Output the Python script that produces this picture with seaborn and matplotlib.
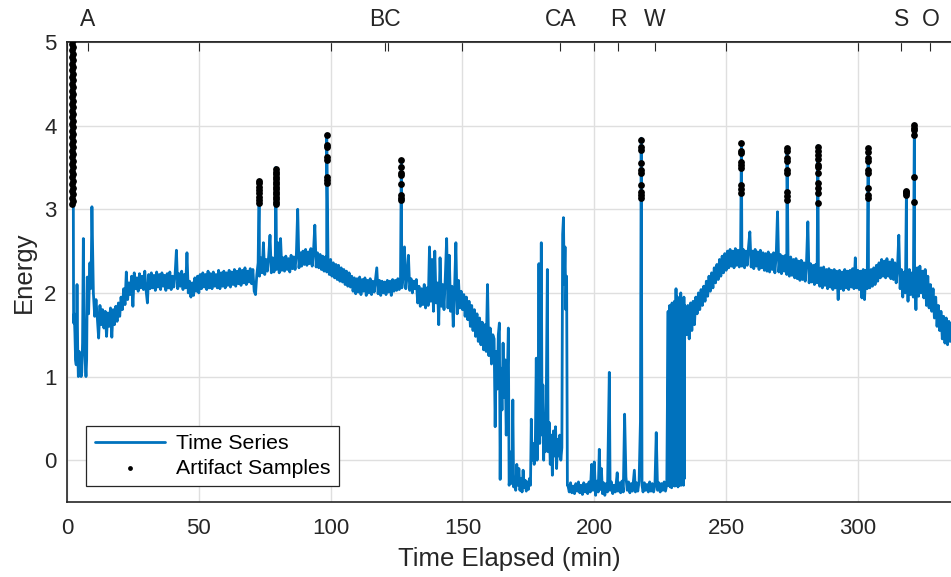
import numpy as np
import pandas as pd
import matplotlib
matplotlib.use("Agg")
import matplotlib.pyplot as plt
import seaborn as sns

# ---------------- data ----------------
SAMPLE_STEP = 0.5  # minutes between samples in the uniformly sampled stretches

# start of recording: (time, energy) pairs
early_pairs = [(1.90, 5.60), (1.97, 3.40), (2.04, 5.50), (2.11, 3.10), (2.18, 5.20),
               (2.25, 3.05), (2.32, 4.20), (2.40, 3.00), (2.50, 1.64), (2.75, 1.75),
               (3.00, 1.52), (3.25, 1.20), (3.50, 1.14), (3.80, 2.10), (4.05, 1.35),
               (4.30, 1.00), (4.60, 1.30), (4.85, 1.10), (5.10, 1.25), (5.35, 1.00),
               (5.60, 1.05), (5.90, 1.40), (6.20, 2.65), (6.45, 1.80), (6.70, 1.36),
               (6.95, 1.15), (7.20, 1.00), (7.45, 1.20), (7.70, 2.19), (7.95, 2.00),
               (8.20, 1.75), (8.45, 2.10), (8.70, 2.36), (8.95, 2.05), (9.20, 2.30),
               (9.45, 3.03), (9.70, 2.55)]

band_10_start = 10.0
band_10 = [2.00, 1.72, 1.92, 1.70, 1.46, 1.85, 1.62, 1.80, 1.58, 1.78,
           1.48, 1.76, 1.60, 1.82, 1.47, 1.80, 1.62, 1.84, 1.66, 1.88,
           1.72, 1.95, 1.80, 2.05, 1.86, 2.25, 1.92, 2.12]

band_24_start = 24.0
band_24 = [1.98, 2.20, 1.84, 2.24, 2.05, 2.18, 2.02, 2.23, 2.06, 2.20,
           2.04, 2.26, 2.03, 1.88, 2.22, 2.05, 2.24, 2.06, 2.21, 2.03,
           2.25, 2.07, 2.22, 2.04, 2.24, 2.08, 2.21, 2.03, 2.23, 2.06,
           2.25, 2.04, 2.20, 2.07, 2.22, 2.51, 2.05, 2.23, 2.08, 2.26,
           2.04, 2.22, 2.06, 2.48, 2.00, 2.14, 1.95, 2.12, 1.97, 2.18,
           2.02, 2.20, 2.00, 2.22, 2.05, 2.24, 2.07, 2.22, 2.04, 2.26,
           2.06, 2.23, 2.05, 2.25, 2.08, 2.22, 2.06, 2.27, 2.05, 2.24,
           2.08, 2.26, 2.06, 2.24, 2.09, 2.27, 2.07, 2.25, 2.10, 2.28,
           2.08, 2.26, 2.11, 2.29, 2.09, 2.27, 2.12, 2.30, 2.10, 2.26,
           2.13, 2.29, 2.11, 2.28, 2.02, 1.98]

band_72_start = 72.0
band_72 = [2.22, 2.36, 2.20, 2.42, 2.24, 2.60, 2.22, 2.40, 2.26, 2.44,
           2.69, 2.24, 2.42, 2.25, 2.40, 2.28, 2.60, 2.24, 2.65, 2.27,
           2.42, 2.26, 2.44, 2.28, 2.41, 2.25, 2.45, 2.29, 2.43, 2.28,
           2.46, 3.00, 2.30, 2.48, 2.32, 2.50, 2.34, 2.52, 2.33, 2.49,
           2.35, 2.53, 2.32, 2.50, 2.81, 2.31, 2.48, 2.30, 2.46, 2.28,
           2.44, 2.26, 2.43, 2.25, 2.42, 2.22, 2.40]

band_100_start = 100.5
band_100 = [2.20, 2.36, 2.18, 2.34, 2.16, 2.33, 2.14, 2.30, 2.13, 2.28,
            2.10, 2.26, 2.08, 2.24, 2.07, 2.20, 2.02, 2.18, 1.99, 2.17,
            2.01, 2.19, 1.98, 2.16, 2.02, 2.18, 1.97, 2.15, 2.00, 2.17,
            1.98, 2.14, 2.01, 2.16, 2.30, 1.99, 2.15, 1.97, 2.14, 2.00,
            2.13, 1.98, 2.15, 2.01, 2.14, 1.97, 2.16, 2.02, 2.15, 2.03,
            2.17, 2.04, 2.18, 2.06, 2.20, 2.55, 2.05, 2.20, 2.45, 2.03,
            2.17, 2.00, 2.14, 2.05, 2.16, 1.88, 2.08, 1.84, 2.05, 1.86,
            2.10, 1.82, 2.06, 1.85, 2.55, 1.90, 2.40, 1.78, 2.50, 1.88,
            2.12, 1.62, 2.42, 1.84, 2.10, 1.80, 2.20, 2.65, 1.82, 2.45,
            1.78, 2.08, 1.60, 2.05, 2.60, 1.75, 2.15, 1.82, 2.02, 1.80,
            1.98, 1.72, 1.95, 1.68, 1.90, 1.60, 1.85, 1.55, 1.80, 1.48,
            1.75, 1.42, 1.70, 1.38, 1.65, 1.32, 1.62, 1.30, 2.10, 1.25,
            1.58, 1.15, 1.50]

# irregular stretch (drop-out, floor, burst): (time, energy) pairs
middle_pairs = [
    (162.0, 1.45), (162.4, 0.40), (162.8, 1.30), (163.2, 0.85), (163.6, 1.50),
    (164.0, 1.64), (164.3, -0.23), (164.6, 1.10), (165.0, 0.60), (165.4, 1.40),
    (165.8, 0.75), (166.2, 1.20), (166.6, 0.30), (167.0, 0.95), (167.4, 1.58),
    (167.7, -0.30), (168.0, -0.20), (168.4, 0.10), (168.8, -0.28), (169.1, 0.72),
    (169.4, -0.32), (169.8, -0.25), (170.2, -0.36), (170.6, -0.05), (171.0, -0.30),
    (171.4, -0.10), (171.8, -0.36), (172.2, -0.22), (172.6, -0.38), (173.0, -0.12),
    (173.4, -0.33), (173.8, -0.24), (174.2, -0.37), (174.6, -0.26), (175.0, -0.35),
    (175.4, -0.22), (175.8, -0.30), (176.1, 0.49), (176.4, 0.00), (176.8, 0.20),
    (177.2, -0.05), (177.6, 0.10), (178.0, 1.22), (178.3, 0.00), (178.7, 0.40),
    (179.0, 2.35), (179.3, 0.20), (179.6, 1.00), (179.9, 2.60), (180.2, 0.30),
    (180.5, 0.90), (180.8, 0.00), (181.1, 0.55), (181.4, 0.10), (181.8, 0.80),
    (182.2, 2.28), (182.5, 0.10), (182.9, 0.45), (183.3, -0.05), (183.7, 0.30),
    (184.1, -0.18), (184.5, 0.35), (184.9, 0.05), (185.3, 0.40), (185.7, -0.10),
    (186.1, 0.25), (186.5, 0.05), (186.9, 0.30), (187.3, 0.00), (187.7, 0.15),
    (188.0, 2.70), (188.3, 2.90), (188.6, 2.10), (188.9, 2.55), (189.2, 1.80),
    (189.5, 2.20), (189.8, -0.30),
    (190.0, -0.30), (190.5, -0.38), (191.0, -0.27), (191.5, -0.39), (192.0, -0.31),
    (192.5, -0.40), (193.0, -0.28), (193.5, -0.37), (194.0, -0.26), (194.5, -0.39),
    (195.0, -0.30), (195.5, -0.41), (196.0, -0.27), (196.5, -0.38), (197.0, -0.29),
    (197.5, -0.40), (198.0, -0.26), (198.5, -0.38), (199.0, -0.05), (199.5, -0.36),
    (200.0, -0.02), (200.5, -0.42), (201.0, -0.25), (201.5, -0.38), (201.9, 0.13),
    (202.3, -0.35), (202.7, -0.10), (203.1, -0.40), (203.5, -0.27), (204.0, -0.42),
    (204.5, -0.28), (205.0, -0.38), (205.7, 1.05), (206.0, -0.36), (206.5, -0.26),
    (207.0, -0.40), (207.5, -0.30), (208.0, -0.38), (208.7, -0.15), (209.0, -0.37),
    (209.5, -0.27), (210.0, -0.39), (210.5, -0.25), (211.0, -0.38), (211.5, 0.55),
    (212.0, -0.20), (212.5, -0.36), (213.0, -0.26), (213.5, -0.39), (214.0, -0.28),
    (214.5, -0.37), (215.2, -0.12), (215.6, -0.38), (216.0, -0.27), (216.5, -0.37),
    (217.0, -0.25), (217.5, 0.46), (217.8, 3.85), (218.1, -0.30), (218.5, -0.38),
    (219.0, -0.27), (219.5, -0.36), (220.0, -0.29), (220.5, -0.38), (221.0, -0.26),
    (221.5, -0.37), (222.0, -0.28), (222.5, -0.38), (223.0, -0.30), (223.5, 0.33),
    (224.0, -0.36), (224.5, -0.27), (225.0, -0.38), (225.5, -0.28), (226.0, -0.36),
    (226.5, -0.26), (227.0, -0.37), (227.5, -0.29),
    (228.0, 1.78), (228.15, -0.30), (228.3, 1.60), (228.45, -0.25), (228.6, 1.85),
    (228.75, -0.32), (228.9, 1.40), (229.05, -0.20), (229.2, 1.70), (229.35, -0.33),
    (229.5, 1.88), (229.65, -0.28), (229.8, 1.55), (229.95, -0.30), (230.1, 1.75),
    (230.25, -0.22), (230.4, 1.90), (230.55, -0.31), (230.7, 1.65), (230.85, -0.27),
    (231.0, 2.05), (231.15, -0.30), (231.3, 1.80), (231.45, -0.25), (231.6, 1.95),
    (231.75, -0.32), (231.9, 1.70), (232.05, -0.28), (232.2, 1.92), (232.35, -0.30),
    (232.5, 1.85), (232.65, -0.26), (232.8, 2.00), (232.95, -0.30), (233.1, 1.75),
    (233.25, -0.28), (233.4, 1.90), (233.55, -0.25), (233.7, 1.80), (233.85, -0.30),
    (234.0, 1.95), (234.15, -0.22), (234.3, 1.85), (234.5, 1.60)]

band_235_start = 235.0
band_235 = [1.50, 1.85, 1.45, 1.88, 1.55, 1.90, 1.62, 1.95, 1.75, 2.00,
            1.80, 2.04, 1.85, 2.08, 1.90, 2.14, 1.96, 2.20, 2.02, 2.24,
            2.06, 2.30, 2.12, 2.34, 2.16, 2.40, 2.20, 2.44, 2.24, 2.47,
            2.27, 2.50, 2.30, 2.52, 2.32, 2.50, 2.30, 2.53, 2.33, 2.51,
            2.31, 2.54, 2.32, 2.52, 2.30, 2.50, 2.33, 2.55, 2.73, 2.31,
            2.50, 2.29, 2.52, 2.32, 2.49, 2.28, 2.51, 2.30, 2.48, 2.27,
            2.47, 2.26, 2.49, 2.25, 2.46, 2.28, 2.48, 2.24, 2.45, 2.97,
            2.25, 2.46, 2.23, 2.44, 2.26, 2.45, 2.22, 2.42, 2.20, 2.43,
            2.21, 2.40, 2.18, 2.41, 2.17, 2.38, 2.15, 2.39, 2.16, 2.36,
            2.14, 2.37, 2.85, 2.12, 2.35, 2.13, 2.33, 2.10, 2.34, 2.12,
            2.32, 2.08, 2.30, 2.06, 2.31, 2.09, 2.28, 2.05, 2.29, 2.07,
            2.27, 2.04, 2.28, 2.06, 2.26, 1.92, 2.27, 2.05, 2.25, 2.03,
            2.28, 2.06, 2.26, 2.04, 2.27, 2.07, 2.29, 2.05, 2.42, 2.06,
            2.27, 2.04, 2.26, 1.94, 2.28, 1.92, 2.27, 2.05, 2.26, 2.06,
            2.28, 2.08, 2.30, 2.10, 2.33, 2.14, 2.36, 2.18, 2.40, 2.20,
            2.38, 2.18, 2.41, 2.20, 2.37, 2.17, 2.40, 2.16, 2.36, 2.12,
            2.30, 2.69, 2.05, 2.28, 1.95, 2.25, 2.00, 2.22, 1.90, 2.28,
            1.98, 2.24, 1.95, 2.20, 1.80, 2.30, 1.96, 2.32, 2.00, 2.26,
            1.94, 2.28, 1.85, 2.20, 1.82, 2.10, 1.78, 2.05, 1.70, 1.95,
            1.60, 1.85, 1.55, 1.78, 1.45, 1.72, 1.40, 1.70, 1.38, 1.66,
            1.42, 1.64]

# tops of the artifact spikes in the series
spike_times = [72.9, 79.2, 98.5, 126.8, 255.8, 273.1, 284.8, 303.9, 318.4, 321.4]
spike_values = [3.35, 3.50, 3.90, 3.60, 3.80, 3.74, 3.76, 3.74, 3.23, 4.02]

# artifact samples (black dots): time of each column and its values
artifact_times = [2.05, 2.25, 72.9, 79.1, 79.3, 98.5, 126.8, 217.8,
                  255.8, 273.1, 284.8, 303.9, 318.4, 321.4]
artifact_values = [
    [3.06, 3.14, 3.22, 3.30, 3.38, 3.46, 3.54, 3.62, 3.70, 3.78, 3.86, 3.94, 4.02,
     4.10, 4.18, 4.26, 4.34, 4.42, 4.50, 4.58, 4.66, 4.74, 4.82, 4.90, 4.98],
    [3.10, 3.18, 3.26, 3.34, 3.42, 3.50, 3.58, 3.66, 3.74, 3.82, 3.90, 3.98, 4.06,
     4.14, 4.22, 4.30, 4.38, 4.46, 4.54, 4.62, 4.70, 4.78, 4.86, 4.94, 5.02],
    [3.07, 3.11, 3.15, 3.19, 3.23, 3.27, 3.31, 3.34],
    [3.06, 3.12, 3.18, 3.24, 3.30, 3.36, 3.42, 3.48],
    [3.09, 3.15, 3.21, 3.27, 3.33, 3.39, 3.45],
    [3.32, 3.35, 3.39, 3.59, 3.62, 3.75, 3.77, 3.89],
    [3.11, 3.14, 3.17, 3.30, 3.41, 3.43, 3.51, 3.59],
    [3.13, 3.17, 3.21, 3.29, 3.43, 3.47, 3.55, 3.71, 3.74, 3.83],
    [3.19, 3.24, 3.29, 3.49, 3.53, 3.56, 3.67, 3.70, 3.79],
    [3.11, 3.16, 3.21, 3.43, 3.47, 3.58, 3.61, 3.70, 3.73],
    [3.08, 3.19, 3.25, 3.31, 3.43, 3.50, 3.53, 3.60, 3.65, 3.70, 3.75],
    [3.13, 3.17, 3.25, 3.43, 3.47, 3.58, 3.61, 3.68, 3.73],
    [3.17, 3.19, 3.21, 3.22],
    [3.09, 3.39, 3.89, 3.95, 3.97, 4.01],
]

# event markers on the top axis
event_times = [7.8, 120.5, 187.1, 209.0, 223.1, 316.5, 327.5]
event_labels = ["A", "BC", "CA", "R", "W", "S", "O"]
event_extra_ticks = [121.9]

x_ticks = [0, 50, 100, 150, 200, 250, 300]
y_ticks = [0, 1, 2, 3, 4, 5]

# ---------------- assemble ----------------
def band(start, vals):
    return [(start + SAMPLE_STEP * i, v) for i, v in enumerate(vals)]

pairs = (early_pairs + band(band_10_start, band_10) + band(band_24_start, band_24)
         + band(band_72_start, band_72) + band(band_100_start, band_100)
         + middle_pairs + band(band_235_start, band_235)
         + list(zip(spike_times, spike_values)))
series = pd.DataFrame(pairs, columns=["t", "energy"]).sort_values("t", kind="mergesort")

art = pd.DataFrame([(t, v) for t, vs in zip(artifact_times, artifact_values) for v in vs],
                   columns=["t", "energy"])

# ---------------- style ----------------
sns.set_style("white")
plt.rcParams["font.family"] = ["Liberation Sans", "DejaVu Sans"]
DARK = "#262626"
BLUE = "#0072BD"

fig = plt.figure(figsize=(9.51, 5.77), dpi=100)
ax = fig.add_axes([67 / 951, 75 / 577, 884 / 951, 460 / 577])

sns.lineplot(data=series, x="t", y="energy", ax=ax, color=BLUE, linewidth=2.0,
             estimator=None, sort=False, label="Time Series", zorder=3)
sns.scatterplot(data=art, x="t", y="energy", ax=ax, color="black", s=24,
                linewidth=0, label="Artifact Samples", zorder=4)

ax.set_xlim(0, 335.3)
ax.set_ylim(-0.5, 5)
ax.set_xticks(x_ticks)
ax.set_yticks(y_ticks)
ax.grid(True, color="#dfdfdf", linewidth=1.0)
ax.set_axisbelow(True)

for side in ["left", "bottom", "top"]:
    ax.spines[side].set_color(DARK)
    ax.spines[side].set_linewidth(1.2)
ax.spines["right"].set_visible(False)

ax.tick_params(axis="both", direction="in", length=6.5, width=0.8, colors=DARK,
               labelsize=16, top=True, right=False, labeltop=False)
ax.tick_params(axis="x", pad=11.5)
ax.tick_params(axis="y", pad=7.5)

ax.set_xlabel("Time Elapsed (min)", fontsize=18.5, color=DARK, labelpad=6)
ax.set_ylabel("Energy", fontsize=18.5, color=DARK, labelpad=6)

sec = ax.secondary_xaxis("top")
sec.set_xticks(event_times, labels=event_labels)
sec.set_xticks(event_extra_ticks, minor=True)
sec.tick_params(which="both", direction="in", length=6.5, width=0.8, colors=DARK)
sec.tick_params(which="major", labelsize=16.5, pad=8)
sec.spines["top"].set_color(DARK)
sec.spines["top"].set_linewidth(1.2)

leg = ax.legend(loc="lower left", bbox_to_anchor=(19 / 884, 16 / 460),
                borderaxespad=0, frameon=True, fancybox=False, framealpha=1,
                edgecolor=DARK, fontsize=15.3, handlelength=3.3, handletextpad=0.55,
                labelspacing=0.25, borderpad=0.4)
leg.get_frame().set_linewidth(0.9)
leg.legend_handles[1].set_sizes([12])
for txt in leg.get_texts():
    txt.set_color("black")

fig.savefig("out.png", dpi=100)
